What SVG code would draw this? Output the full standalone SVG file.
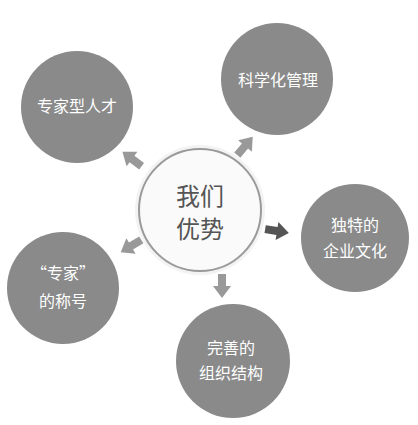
<svg xmlns="http://www.w3.org/2000/svg" width="418" height="425" viewBox="0 0 418 425">
<style>
.sat{fill:#8a8a8a}
.st{fill:#fff;font-family:"Noto Sans CJK SC","Liberation Sans",sans-serif;font-size:16px;text-anchor:middle}
.ct{fill:#555;font-family:"Noto Sans CJK SC","Liberation Sans",sans-serif;font-size:24px;text-anchor:middle}
.arr{fill:#999}
</style>
<defs>
<path id="ar" d="M-12,-4 L0,-4 L0,-9 L12,0 L0,9 L0,4 L-12,4 Z"/>
</defs>
<rect width="418" height="425" fill="#fff"/>
<g id="center">
<circle cx="200" cy="210" r="65" fill="#f3f3f3"/>
<circle cx="200" cy="210" r="61" fill="#fafafa" stroke="#9a9a9a" stroke-width="2"/>
<text class="ct" x="200" y="205">我们</text>
<text class="ct" x="200" y="238">优势</text>
</g>
<g id="n1">
<circle class="sat" cx="277" cy="79" r="56"/>
<text class="st" x="278" y="86">科学化管理</text>
</g>
<g id="n2">
<circle class="sat" cx="77" cy="107" r="56"/>
<text class="st" x="77" y="112">专家型人才</text>
</g>
<g id="n3">
<circle class="sat" cx="355" cy="238" r="54"/>
<text class="st" x="355" y="231">独特的</text>
<text class="st" x="355" y="257">企业文化</text>
</g>
<g id="n4">
<circle class="sat" cx="63" cy="288" r="56"/>
<text class="st" x="63" y="279">“专家”</text>
<text class="st" x="63" y="307">的称号</text>
</g>
<g id="n5">
<circle class="sat" cx="233" cy="361" r="57"/>
<text class="st" x="231" y="354">完善的</text>
<text class="st" x="231" y="379">组织结构</text>
</g>
<g id="connectors">
<use href="#ar" class="arr" transform="translate(132,159) rotate(217)"/>
<use href="#ar" class="arr" transform="translate(245,146) rotate(-50)"/>
<use href="#ar" class="arr" transform="translate(131,246) rotate(149)"/>
<use href="#ar" class="arr" transform="translate(222,286) rotate(90)"/>
<use href="#ar" fill="#555" transform="translate(277,231) rotate(9)"/>
</g>
</svg>
